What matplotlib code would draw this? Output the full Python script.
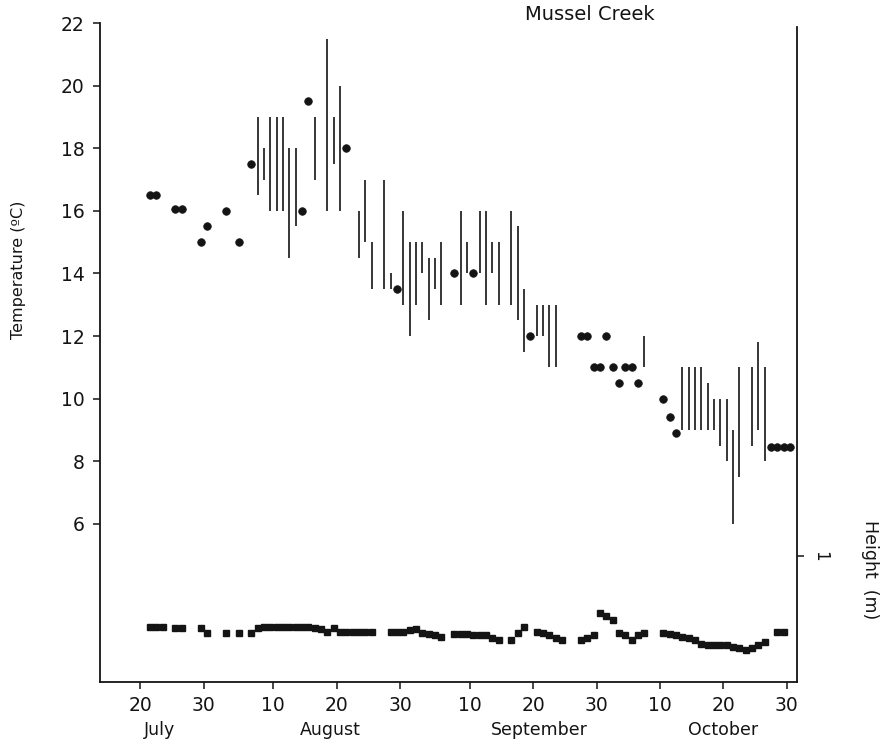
import matplotlib
matplotlib.use('Agg')
import matplotlib.pyplot as plt
import matplotlib.transforms as mtransforms
import pandas as pd

YEAR = '2001-'

# daily temperature range (vertical bars), degC
bar_dates = ['08-07', '08-08', '08-09', '08-10', '08-11', '08-12', '08-13', '08-16',
             '08-18', '08-19', '08-20', '08-23', '08-24', '08-25', '08-27', '08-28',
             '08-30', '08-31', '09-01', '09-02', '09-03', '09-04', '09-05', '09-08',
             '09-09', '09-11', '09-12', '09-13', '09-14', '09-16', '09-17', '09-18',
             '09-20', '09-21', '09-22', '09-23', '10-07', '10-13', '10-14', '10-15',
             '10-16', '10-17', '10-18', '10-19', '10-20', '10-21', '10-22', '10-24',
             '10-25', '10-26']
bar_low = [16.5, 17.0, 16.0, 16.0, 16.0, 14.5, 15.5, 17.0,
           16.0, 17.5, 16.0, 14.5, 15.0, 13.5, 13.5, 13.5,
           13.0, 12.0, 13.0, 14.0, 12.5, 13.5, 13.0, 13.0,
           14.0, 14.0, 13.0, 14.0, 13.0, 13.0, 12.5, 11.5,
           12.0, 12.0, 11.0, 11.0, 11.0, 9.0, 9.0, 9.0,
           9.0, 9.0, 9.0, 8.5, 8.0, 6.0, 7.5, 8.5,
           9.0, 8.0]
bar_high = [19.0, 18.0, 19.0, 19.0, 19.0, 18.0, 18.0, 19.0,
            21.5, 19.0, 20.0, 16.0, 17.0, 15.0, 17.0, 14.0,
            16.0, 15.0, 15.0, 15.0, 14.5, 14.5, 15.0, 16.0,
            15.0, 16.0, 16.0, 15.0, 15.0, 16.0, 15.5, 13.5,
            13.0, 13.0, 13.0, 13.0, 12.0, 11.0, 11.0, 11.0,
            11.0, 10.5, 10.0, 10.0, 10.0, 9.0, 11.0, 11.0,
            11.8, 11.0]

# single temperature readings (dots), degC
dot_dates = ['07-21', '07-22', '07-25', '07-26', '07-29', '07-30', '08-02', '08-04',
             '08-06', '08-14', '08-15', '08-21', '08-29', '09-07', '09-10', '09-19',
             '09-27', '09-28', '09-29', '09-30', '10-01', '10-02', '10-03', '10-04',
             '10-05', '10-06', '10-10', '10-11', '10-12', '10-27', '10-28', '10-29',
             '10-30']
dot_temp = [16.5, 16.5, 16.05, 16.05, 15.0, 15.5, 16.0, 15.0,
            17.5, 16.0, 19.5, 18.0, 13.5, 14.0, 14.0, 12.0,
            12.0, 12.0, 11.0, 11.0, 12.0, 11.0, 10.5, 11.0,
            11.0, 10.5, 10.0, 9.4, 8.9, 8.45, 8.45, 8.45,
            8.45]

# height (squares), m
h_dates = ['07-21', '07-22', '07-23', '07-25', '07-26', '07-29', '07-30', '08-02',
           '08-04', '08-06', '08-07', '08-08', '08-09', '08-10', '08-11', '08-12',
           '08-13', '08-14', '08-15', '08-16', '08-17', '08-18', '08-19', '08-20',
           '08-21', '08-22', '08-23', '08-24', '08-25', '08-28', '08-29', '08-30',
           '08-31', '09-01', '09-02', '09-03', '09-04', '09-05', '09-07', '09-08',
           '09-09', '09-10', '09-11', '09-12', '09-13', '09-14', '09-16', '09-17',
           '09-18', '09-20', '09-21', '09-22', '09-23', '09-24', '09-27', '09-28',
           '09-29', '09-30', '10-01', '10-02', '10-03', '10-04', '10-05', '10-06',
           '10-07', '10-10', '10-11', '10-12', '10-13', '10-14', '10-15', '10-16',
           '10-17', '10-18', '10-19', '10-20', '10-21', '10-22', '10-23', '10-24',
           '10-25', '10-26', '10-28', '10-29']
h_val = [0.44, 0.44, 0.44, 0.43, 0.43, 0.43, 0.39, 0.39,
         0.39, 0.39, 0.43, 0.44, 0.44, 0.44, 0.44, 0.44,
         0.44, 0.44, 0.44, 0.43, 0.42, 0.40, 0.43, 0.40,
         0.40, 0.40, 0.40, 0.40, 0.40, 0.40, 0.40, 0.40,
         0.41, 0.42, 0.39, 0.38, 0.37, 0.36, 0.38, 0.38,
         0.38, 0.37, 0.37, 0.37, 0.35, 0.33, 0.33, 0.39,
         0.44, 0.40, 0.39, 0.37, 0.35, 0.33, 0.33, 0.35,
         0.37, 0.55, 0.52, 0.49, 0.39, 0.37, 0.33, 0.37,
         0.39, 0.39, 0.38, 0.37, 0.36, 0.35, 0.33, 0.30,
         0.29, 0.29, 0.29, 0.29, 0.28, 0.27, 0.25, 0.27,
         0.29, 0.32, 0.40, 0.40]

tick_dates = ['07-20', '07-30', '08-10', '08-20', '08-30', '09-10', '09-20', '09-30',
              '10-10', '10-20', '10-30']
tick_labels = ['20', '30', '10', '20', '30', '10', '20', '30', '10', '20', '30']
months = ['July', 'August', 'September', 'October']
month_pos = ['07-23', '08-19', '09-21', '10-20']
temp_ticks = [6, 8, 10, 12, 14, 16, 18, 20, 22]


def to_dt(lst, noon=True):
    d = pd.to_datetime([YEAR + s for s in lst])
    if noon:
        d = d + pd.Timedelta(hours=13)
    return d


plt.rcParams['font.family'] = 'DejaVu Sans'
ink = '#141414'

fig = plt.figure(figsize=(8.96, 7.45), dpi=100)
ax = fig.add_axes([0.1116, 0.0846, 0.7779, 0.8845])

ax.vlines(to_dt(bar_dates), bar_low, bar_high, color=ink, linewidth=1.2)
ax.plot(to_dt(dot_dates), dot_temp, 'o', color=ink, markersize=5.4, markeredgewidth=0.6)

ax.set_ylim(0.95, 22)
ax.set_yticks(temp_ticks)
ax.set_yticklabels([str(t) for t in temp_ticks], fontsize=13.5, color=ink)

x0 = pd.Timestamp(YEAR + '07-13') + pd.Timedelta(hours=16)
x1 = pd.Timestamp(YEAR + '10-31') + pd.Timedelta(hours=15)
ax.set_xlim(x0, x1)
ax.set_xticks(to_dt(tick_dates, noon=False))
ax.set_xticklabels(tick_labels, fontsize=13.5, color=ink)
ax.tick_params(axis='both', direction='out', length=5, width=1.1, colors=ink, pad=6)
ax.tick_params(axis='x', pad=5)

for s in ['left', 'bottom']:
    ax.spines[s].set_linewidth(1.3)
    ax.spines[s].set_color(ink)
ax.spines['top'].set_visible(False)
ax.spines['right'].set_visible(False)

ax2 = ax.twinx()
ax2.plot(to_dt(h_dates), h_val, 's', color=ink, markersize=4.8)
ax2.set_ylim(0, 5.23)
ax2.set_yticks([1])
ax2.set_yticklabels(['1'], rotation=270, fontsize=12, color=ink, va='center')
ax2.tick_params(axis='y', direction='out', length=5, width=1.1, colors=ink, pad=5)
for s in ['left', 'bottom', 'top']:
    ax2.spines[s].set_visible(False)
ax2.spines['right'].set_linewidth(1.3)
ax2.spines['right'].set_color(ink)
ax2.spines['right'].set_bounds(0, 5.2)

trans = mtransforms.blended_transform_factory(ax.transData, fig.transFigure)
for m, p in zip(months, month_pos):
    ax.text(to_dt([p], noon=False)[0], 1 - 730 / 745, m, transform=trans,
            ha='center', va='center', fontsize=12.5, color=ink)

fig.text(590 / 896, 1 - 15 / 745, 'Mussel Creek', ha='center', va='center',
         fontsize=14, color=ink)
fig.text(18 / 896, 1 - 270 / 745, 'Temperature (ºC)', rotation=90,
         ha='center', va='center', fontsize=11.5, color=ink)
fig.text(870 / 896, 1 - 570 / 745, 'Height  (m)', rotation=270,
         ha='center', va='center', fontsize=12.5, color=ink)

fig.savefig('out.png', dpi=100)
